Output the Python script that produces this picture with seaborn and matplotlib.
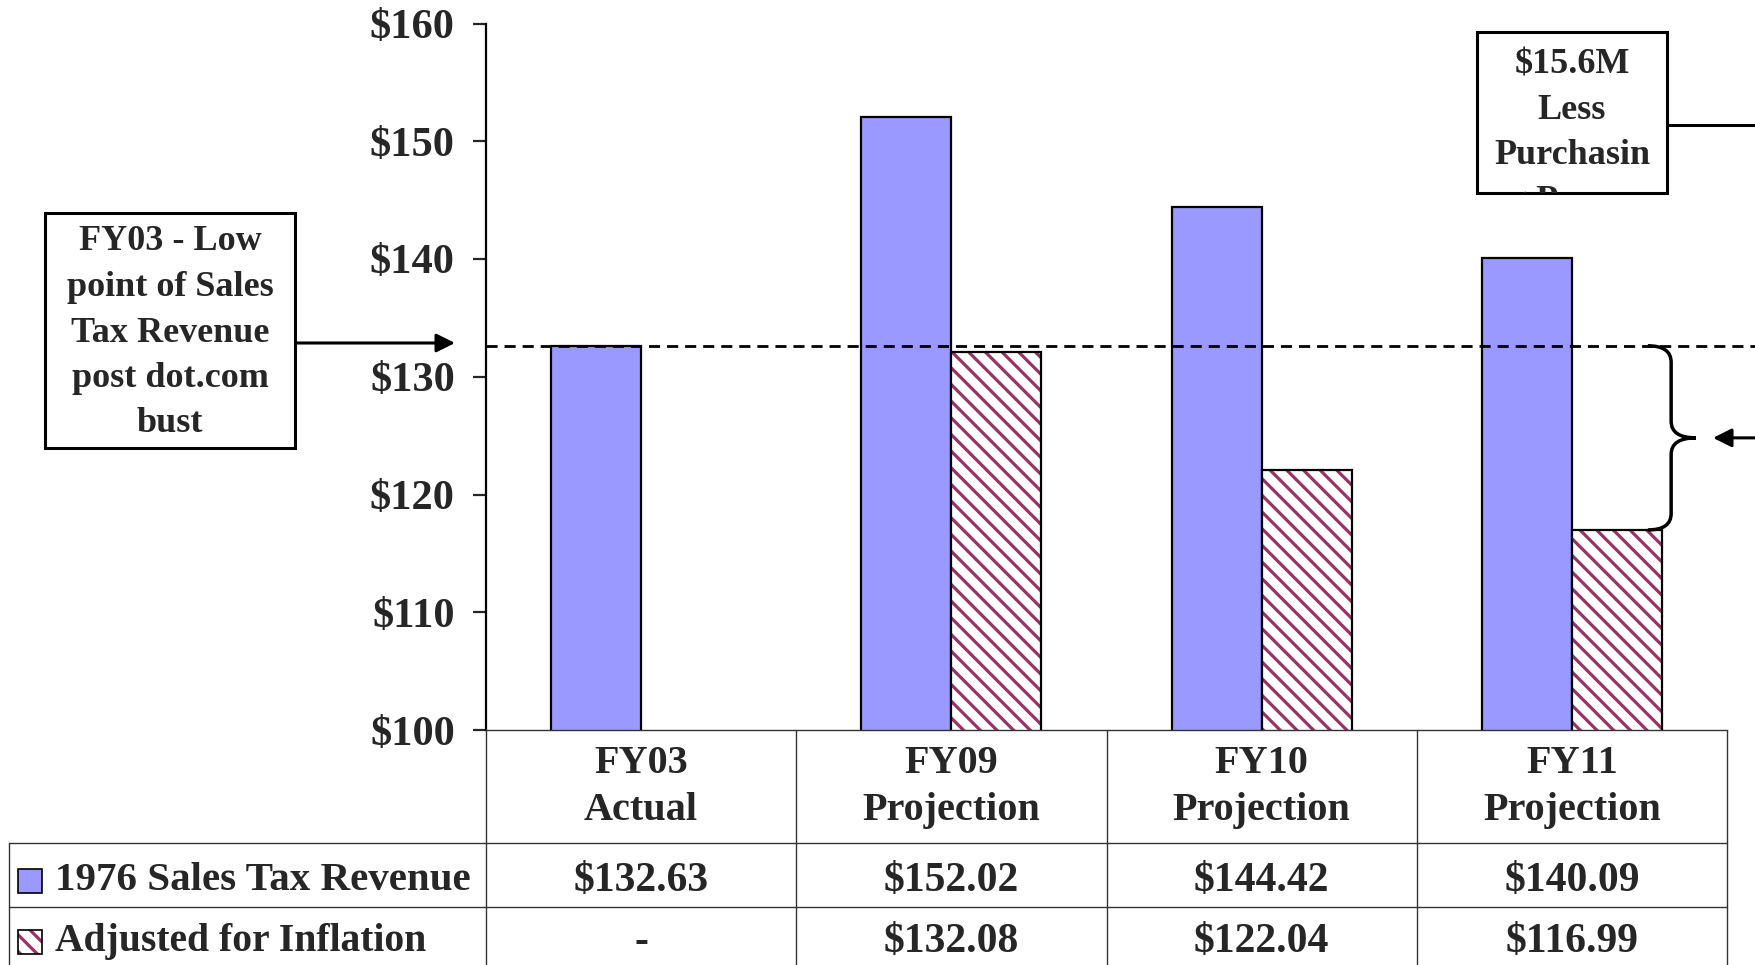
# sales tax revenue vs inflation-adjusted, with the data table underneath

import numpy as np
import pandas as pd
import seaborn as sns
import matplotlib.pyplot as plt
import matplotlib.transforms as mtransforms
from matplotlib.patches import Rectangle, PathPatch
from matplotlib.path import Path
from matplotlib.lines import Line2D

categories = ["FY03\nActual", "FY09\nProjection", "FY10\nProjection", "FY11\nProjection"]
series = ["1976 Sales Tax Revenue", "Adjusted for Inflation"]
sales_tax = [132.63, 152.02, 144.42, 140.09]
adjusted = [np.nan, 132.08, 122.04, 116.99]
yticks = [100, 110, 120, 130, 140, 150, 160]
left_note = "FY03 - Low\npoint of Sales\nTax Revenue\npost dot.com\nbust"
right_note = "$15.6M\nLess\nPurchasin\ng Power"

BLUE = "#9999FF"
MAROON = "#993366"
W, H = 1755, 965


def fx(px):  # pixel -> figure fraction
    return px / W


def fy(py):
    return 1 - py / H


sns.set_style("white")
plt.rcParams["font.family"] = ["Liberation Serif", "DejaVu Serif"]
plt.rcParams["font.weight"] = "bold"
plt.rcParams["hatch.linewidth"] = 2.3

df = pd.DataFrame({
    "category": categories * 2,
    "series": [series[0]] * 4 + [series[1]] * 4,
    "value": sales_tax + adjusted,
})

fig = plt.figure(figsize=(W / 100, H / 100), dpi=100)
ax = fig.add_axes([fx(486), fy(730), fx(1727) - fx(486), fy(23.5) - fy(730)])

sns.barplot(data=df.dropna(), x="category", y="value", hue="series",
            order=categories, hue_order=series, palette=[BLUE, "white"],
            saturation=1, width=0.58, gap=0, edgecolor="black", linewidth=1.6,
            legend=False, ax=ax)

# hatched bars: maroon stripes, black outline on top
for bar in ax.containers[1]:
    bar.set_hatch("\\\\")
    bar.set_edgecolor(MAROON)
    bar.set_linewidth(0)
    ax.add_patch(Rectangle(bar.get_xy(), bar.get_width(), bar.get_height(),
                           fill=False, edgecolor="black", linewidth=1.6))

ax.set_xlim(-0.5, 3.5)
ax.set_ylim(100, 160)
ax.set_yticks(yticks)
ax.set_yticklabels([f"${t}" for t in yticks], fontsize=30.5, fontweight="bold")
ax.set_xticks([])
ax.set_xlabel("")
ax.set_ylabel("")
sns.despine(ax=ax)
ax.spines["left"].set_linewidth(1.6)
ax.spines["left"].set_color("black")
ax.spines["bottom"].set_linewidth(1)
ax.spines["bottom"].set_color("#333333")
ax.tick_params(axis="y", left=True, direction="out", length=9.5, width=1.6,
               pad=13)

# reference line at FY03 level
ax.plot([-0.5, 3.59], [sales_tax[0]] * 2, ls=(0, (4, 2.5)), color="black",
        lw=2, clip_on=False)

# brace from the reference line down to FY11 adjusted
ytop, ybot = sales_tax[0], adjusted[3]
ymid = (ytop + ybot) / 2
xa, x1, x2, r = 3.245, 3.32, 3.40, 1.4
verts = [(xa, ytop), (x1, ytop), (x1, ytop - r), (x1, ymid + r), (x1, ymid),
         (x2, ymid), (x1, ymid), (x1, ymid - r), (x1, ybot + r), (x1, ybot),
         (xa, ybot)]
codes = [Path.MOVETO, Path.CURVE3, Path.CURVE3, Path.LINETO, Path.CURVE3,
         Path.CURVE3, Path.CURVE3, Path.CURVE3, Path.LINETO, Path.CURVE3,
         Path.CURVE3]
ax.add_patch(PathPatch(Path(verts, codes), fill=False, lw=2.5,
                       edgecolor="black", clip_on=False))
ax.annotate("", xy=(3.455, ymid), xytext=(3.6, ymid), annotation_clip=False,
            arrowprops=dict(arrowstyle="-|>", color="black", lw=2.2,
                            mutation_scale=28, shrinkA=0, shrinkB=0))

# data table below the axis
blend = mtransforms.blended_transform_factory(ax.transData, fig.transFigure)
line_kw = dict(color="#333333", lw=1)
for yy in [843, 907]:
    fig.add_artist(Line2D([fx(9), fx(1727)], [fy(yy)] * 2,
                          transform=fig.transFigure, **line_kw))
for b in np.arange(-0.5, 4, 1):
    fig.add_artist(Line2D([b, b], [fy(730), 0], transform=blend, **line_kw))
fig.add_artist(Line2D([fx(9), fx(9)], [fy(843), 0],
                      transform=fig.transFigure, **line_kw))

for i, cat in enumerate(categories):
    ax.text(i, fy(787), cat, transform=blend, ha="center", va="center",
            fontsize=29, linespacing=1.38)
    ax.text(i, fy(881), f"${sales_tax[i]:.2f}", transform=blend,
            ha="center", va="center", fontsize=30)
    val = adjusted[i]
    ax.text(i, fy(942), "-" if np.isnan(val) else f"${val:.2f}",
            transform=blend, ha="center", va="center", fontsize=30)

fig.text(fx(55), fy(881), series[0], ha="left", va="center", fontsize=29.5)
fig.text(fx(55), fy(942), series[1], ha="left", va="center", fontsize=28.5)
fig.add_artist(Rectangle((fx(18), fy(893)), fx(24), 24 / H,
                         transform=fig.transFigure, facecolor=BLUE,
                         edgecolor="black", lw=1.2))
sq = Rectangle((fx(18), fy(954)), fx(24), 24 / H, transform=fig.transFigure,
               facecolor="white", edgecolor=MAROON, lw=0, hatch="\\\\")
fig.add_artist(sq)
fig.add_artist(Rectangle((fx(18), fy(954)), fx(24), 24 / H,
                         transform=fig.transFigure, fill=False,
                         edgecolor="black", lw=1.2))

# left note box
fig.add_artist(Rectangle((fx(45), fy(448)), fx(295) - fx(45), fy(213) - fy(448),
                         transform=fig.transFigure, facecolor="white",
                         edgecolor="black", lw=2.2))
fig.text(fx(170), fy(333), left_note, ha="center", va="center", fontsize=26,
         linespacing=1.5)
ax.annotate("", xy=(fx(455), fy(343)), xycoords="figure fraction",
            xytext=(fx(295), fy(343)), textcoords="figure fraction",
            arrowprops=dict(arrowstyle="-|>", color="black", lw=2.2,
                            mutation_scale=28, shrinkA=0, shrinkB=0))

# right note box, text runs past the bottom edge and gets cut
box = Rectangle((fx(1477), fy(193)), fx(1667) - fx(1477), fy(32) - fy(193),
                transform=fig.transFigure, facecolor="white",
                edgecolor="black", lw=2.2)
fig.add_artist(box)
t = fig.text(fx(1572), fy(133), right_note, ha="center", va="center",
             fontsize=26, linespacing=1.5)
t.set_clip_path(box)
fig.add_artist(Line2D([fx(1667), 1], [fy(125)] * 2, transform=fig.transFigure,
                      color="black", lw=2.2))

fig.savefig("out.png", dpi=100)
